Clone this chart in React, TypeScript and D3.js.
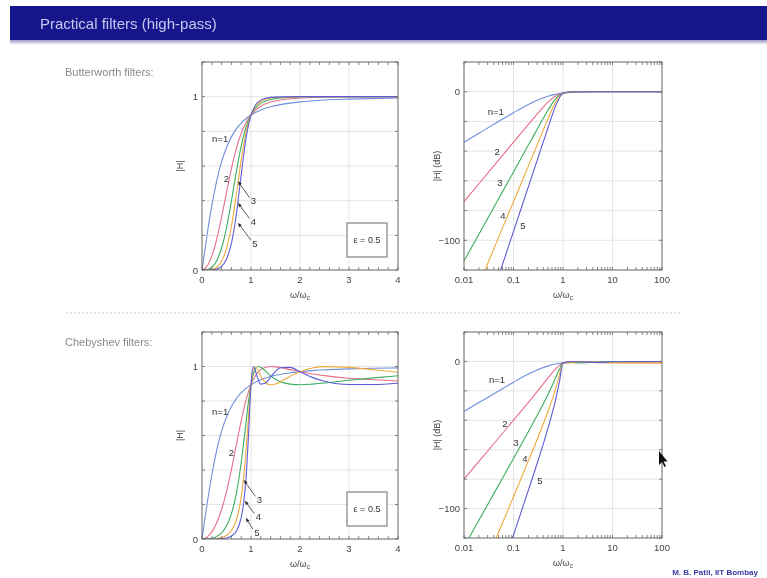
import React from 'react';
import * as d3 from 'd3';

const W = 767;
const H = 578;

// ---- tick labels ----
const linXTicks = [0, 1, 2, 3, 4];
const linYLabels = [0, 1];
const logXTicks = [0.01, 0.1, 1, 10, 100];
const logXTickLabels = ['0.01', '0.1', '1', '10', '100'];
const logYLabels = [0, -100];

const orderLabels = ['n=1', '2', '3', '4', '5'];
const colors = ['#6f90de', '#e66f88', '#3caf5e', '#f0aa3c', '#5c5cd8'];

// ---- Butterworth, |H| (linear) ----
const bwLinW = [0, 0.1, 0.2, 0.3, 0.4, 0.5, 0.6, 0.7, 0.8, 0.9, 1.0, 1.1, 1.2, 1.4, 1.6, 2.0, 2.5, 3.0, 4.0];
const bwLin1 = [0, 0.196, 0.371, 0.514, 0.625, 0.707, 0.768, 0.814, 0.848, 0.874, 0.894, 0.91, 0.923, 0.942, 0.954, 0.97, 0.981, 0.986, 0.992];
const bwLin2 = [0, 0.02, 0.08, 0.177, 0.305, 0.447, 0.584, 0.7, 0.788, 0.851, 0.894, 0.924, 0.945, 0.969, 0.981, 0.992, 0.997, 0.998, 0.999];
const bwLin3 = [0, 0.002, 0.016, 0.054, 0.127, 0.243, 0.397, 0.566, 0.715, 0.825, 0.894, 0.936, 0.961, 0.984, 0.993, 0.998, 1, 1, 1];
const bwLin4 = [0, 0, 0.003, 0.016, 0.051, 0.124, 0.251, 0.433, 0.634, 0.795, 0.894, 0.946, 0.972, 0.992, 0.997, 0.999, 1, 1, 1];
const bwLin5 = [0, 0, 0.001, 0.005, 0.021, 0.062, 0.154, 0.319, 0.548, 0.763, 0.894, 0.955, 0.98, 0.996, 0.999, 1, 1, 1, 1];

// ---- Butterworth, |H| in dB ----
const bwDbW = [0.01, 0.02, 0.05, 0.1, 0.2, 0.3, 0.5, 0.7, 1, 1.5, 2, 5, 10, 100];
const bwDb1 = [-33.98, -27.96, -20.04, -14.15, -8.6, -5.77, -3.01, -1.79, -0.97, -0.46, -0.26, -0.04, -0.01, 0];
const bwDb2 = [-73.98, -61.94, -46.02, -33.98, -21.96, -15.03, -6.99, -3.1, -0.97, -0.21, -0.07, 0, 0, 0];
const bwDb3 = [-113.98, -95.92, -72.04, -53.98, -35.92, -25.37, -12.3, -4.95, -0.97, -0.09, -0.02, 0, 0, 0];
const bwDb4 = [-153.98, -129.9, -98.06, -73.98, -49.9, -35.81, -18.13, -7.28, -0.97, -0.04, 0, 0, 0, 0];
const bwDb5 = [-193.98, -163.9, -124.08, -93.98, -63.88, -46.27, -24.1, -9.93, -0.97, -0.02, 0, 0, 0, 0];

// ---- Chebyshev, |H| (linear) ----
const chLinW = [0, 0.1, 0.2, 0.3, 0.4, 0.5, 0.6, 0.7, 0.8, 0.85, 0.9, 0.95, 1.0, 1.05, 1.1, 1.15, 1.2, 1.3, 1.4, 1.5, 1.6, 1.8, 2.0, 2.25, 2.5, 3.0, 3.5, 4.0];
const chLin1 = [0, 0.196, 0.371, 0.514, 0.625, 0.707, 0.768, 0.814, 0.848, 0.862, 0.874, 0.885, 0.894, 0.903, 0.91, 0.917, 0.923, 0.933, 0.942, 0.949, 0.954, 0.964, 0.97, 0.976, 0.981, 0.986, 0.99, 0.992];
const chLin2 = [0, 0.01, 0.041, 0.094, 0.171, 0.275, 0.402, 0.544, 0.685, 0.749, 0.806, 0.854, 0.894, 0.926, 0.951, 0.969, 0.982, 0.996, 1.0, 0.998, 0.994, 0.982, 0.97, 0.957, 0.947, 0.932, 0.923, 0.916];
const chLin3 = [0, 0.0005, 0.004, 0.015, 0.036, 0.077, 0.146, 0.262, 0.442, 0.557, 0.68, 0.799, 0.894, 0.958, 0.99, 1.0, 0.996, 0.972, 0.946, 0.926, 0.912, 0.898, 0.894, 0.898, 0.904, 0.92, 0.934, 0.946];
const chLin4 = [0, 0, 0.0004, 0.002, 0.008, 0.021, 0.049, 0.11, 0.242, 0.356, 0.516, 0.715, 0.894, 0.987, 0.997, 0.973, 0.944, 0.906, 0.894, 0.899, 0.911, 0.943, 0.97, 0.991, 0.999, 0.995, 0.981, 0.967];
const chLin5 = [0, 0, 0, 0.0003, 0.002, 0.006, 0.017, 0.045, 0.124, 0.209, 0.358, 0.608, 0.894, 1.0, 0.965, 0.921, 0.898, 0.904, 0.938, 0.972, 0.993, 0.995, 0.97, 0.937, 0.915, 0.896, 0.896, 0.903];

// ---- Chebyshev, |H| in dB ----
const chDbW = [0.01, 0.02, 0.05, 0.1, 0.2, 0.3, 0.5, 0.7, 0.85, 1, 1.5, 2, 5, 10, 100];
const chDb1 = [-33.98, -27.96, -20.04, -14.15, -8.6, -5.77, -3.01, -1.79, -1.29, -0.97, -0.46, -0.26, -0.04, -0.01, 0];
const chDb2 = [-80.0, -67.96, -52.03, -39.96, -27.79, -20.55, -11.22, -5.28, -2.51, -0.97, -0.01, -0.26, -0.83, -0.93, -0.97];
const chDb3 = [-126.0, -107.96, -84.07, -65.95, -47.69, -36.78, -22.3, -11.64, -5.09, -0.97, -0.67, -0.97, -0.34, -0.09, 0];
const chDb4 = [-172, -148, -116.1, -91.95, -67.6, -53.06, -33.72, -19.14, -8.98, -0.97, -0.93, -0.26, -0.49, -0.84, -0.97];
const chDb5 = [-218, -188, -148.1, -117.95, -87.5, -69.34, -45.15, -26.86, -13.61, -0.97, -0.25, -0.26, -0.71, -0.24, 0];

// ---- curve label positions (data coords) ----
const bwLinLabelPos: [number, number][] = [[0.37, 0.76], [0.5, 0.53], [1.05, 0.4], [1.05, 0.28], [1.08, 0.155]];
const bwLinArrowTips: [number, number][] = [[0.74, 0.51], [0.74, 0.385], [0.74, 0.27]];
const chLinLabelPos: [number, number][] = [[0.37, 0.74], [0.6, 0.5], [1.17, 0.23], [1.15, 0.13], [1.12, 0.04]];
const chLinArrowTips: [number, number][] = [[0.86, 0.34], [0.88, 0.22], [0.9, 0.12]];
const bwDbLabelPos: [number, number][] = [[0.044, -13.5], [0.0465, -40], [0.053, -61], [0.061, -83], [0.155, -90]];
const chDbLabelPos: [number, number][] = [[0.0466, -12.6], [0.067, -42], [0.112, -55], [0.17, -66], [0.34, -81]];

type Box = { l: number; t: number; r: number; b: number };

const FONT = "'Liberation Sans', Arial, sans-serif";

function Panel(props: {
  id: string;
  box: Box;
  log: boolean;
  xs: number[];
  series: number[][];
  labelPos: [number, number][];
  arrowTips?: [number, number][];
  eps?: boolean;
}) {
  const { id, box, log, xs, series, labelPos, arrowTips, eps } = props;
  const x: any = log
    ? d3.scaleLog().domain([0.01, 100]).range([box.l, box.r])
    : d3.scaleLinear().domain([0, 4]).range([box.l, box.r]);
  const y = log
    ? d3.scaleLinear().domain([-120, 20]).range([box.b, box.t])
    : d3.scaleLinear().domain([0, 1.2]).range([box.b, box.t]);

  const xMinor: number[] = log
    ? [0.01, 0.1, 1, 10].flatMap((d) => d3.range(1, 10).map((k) => d * k)).concat([100])
    : d3.range(0, 4.0001, 0.2);
  const yMinor: number[] = log ? d3.range(-120, 20.01, 20) : d3.range(0, 1.2001, 0.2);
  const xGrid: number[] = log ? [0.1, 1, 10] : [1, 2, 3];
  const yGrid: number[] = log ? d3.range(-100, 0.01, 20) : [0.2, 0.4, 0.6, 0.8, 1.0];

  const line = d3
    .line<number>()
    .x((_, i) => x(xs[i]))
    .y((d) => y(d))
    .curve(d3.curveMonotoneX);

  const tk = 3;
  const cx = (box.l + box.r) / 2;
  const cy = (box.t + box.b) / 2;

  return (
    <g fontFamily={FONT}>
      <defs>
        <clipPath id={id}>
          <rect x={box.l} y={box.t} width={box.r - box.l} height={box.b - box.t} />
        </clipPath>
      </defs>
      {xGrid.map((v) => (
        <line key={'gx' + v} x1={x(v)} x2={x(v)} y1={box.t} y2={box.b} stroke="#e2e2e2" strokeWidth={0.9} />
      ))}
      {yGrid.map((v) => (
        <line key={'gy' + v} x1={box.l} x2={box.r} y1={y(v)} y2={y(v)} stroke="#e2e2e2" strokeWidth={0.9} />
      ))}
      <g clipPath={`url(#${id})`}>
        {series.map((s, i) => (
          <path key={i} d={line(s) || ''} fill="none" stroke={colors[i]} strokeWidth={1.1} />
        ))}
      </g>
      <rect x={box.l} y={box.t} width={box.r - box.l} height={box.b - box.t} fill="none" stroke="#666" strokeWidth={1} />
      {xMinor.map((v, i) => (
        <g key={'tx' + i} stroke="#666" strokeWidth={0.8}>
          <line x1={x(v)} x2={x(v)} y1={box.b} y2={box.b - tk} />
          <line x1={x(v)} x2={x(v)} y1={box.t} y2={box.t + tk} />
        </g>
      ))}
      {yMinor.map((v, i) => (
        <g key={'ty' + i} stroke="#666" strokeWidth={0.8}>
          <line x1={box.l} x2={box.l + tk} y1={y(v)} y2={y(v)} />
          <line x1={box.r} x2={box.r - tk} y1={y(v)} y2={y(v)} />
        </g>
      ))}
      {(log ? logXTicks : linXTicks).map((v, i) => (
        <text key={'lx' + i} x={x(v)} y={box.b + 13} fontSize={9.5} textAnchor="middle" fill="#444">
          {log ? logXTickLabels[i] : String(v)}
        </text>
      ))}
      {(log ? logYLabels : linYLabels).map((v, i) => (
        <text key={'ly' + i} x={box.l - 4} y={y(v) + 3.5} fontSize={9.5} textAnchor="end" fill="#444">
          {v < 0 ? '\u2212' + String(-v) : String(v)}
        </text>
      ))}
      <text x={cx} y={box.b + 28} fontSize={9} textAnchor="middle" fill="#444">
        ω/ω<tspan fontSize={6.5} dy={2}>c</tspan>
      </text>
      <text
        transform={`translate(${log ? box.l - 24 : box.l - 19},${cy}) rotate(-90)`}
        fontSize={9}
        textAnchor="middle"
        fill="#444"
      >
        {log ? '|H| (dB)' : '|H|'}
      </text>
      {labelPos.map((p, i) => (
        <text key={'cl' + i} x={x(p[0])} y={y(p[1]) + 3.5} fontSize={9.5} textAnchor="middle" fill="#333">
          {orderLabels[i]}
        </text>
      ))}
      {arrowTips &&
        arrowTips.map((tip, i) => {
          const lp = labelPos[i + 2];
          const x1 = x(lp[0]) - 4;
          const y1 = y(lp[1]) - 3;
          const x2 = x(tip[0]);
          const y2 = y(tip[1]);
          const ang = Math.atan2(y2 - y1, x2 - x1);
          const a = 4;
          const h1 = [x2 - a * Math.cos(ang - 0.45), y2 - a * Math.sin(ang - 0.45)];
          const h2 = [x2 - a * Math.cos(ang + 0.45), y2 - a * Math.sin(ang + 0.45)];
          return (
            <g key={'ar' + i}>
              <line x1={x1} y1={y1} x2={x2} y2={y2} stroke="#333" strokeWidth={0.8} />
              <path d={`M${x2},${y2}L${h1[0]},${h1[1]}L${h2[0]},${h2[1]}Z`} fill="#222" />
            </g>
          );
        })}
      {eps && (
        <g>
          <rect x={box.r - 51} y={box.b - 47} width={40} height={34} fill="white" stroke="#777" strokeWidth={1.1} />
          <text x={box.r - 31} y={box.b - 27} fontSize={9} textAnchor="middle" fill="#333">
            ε = 0.5
          </text>
        </g>
      )}
    </g>
  );
}

export default function App() {
  return (
    <svg
      width={W}
      height={H}
      viewBox={`0 0 ${W} ${H}`}
      style={{ position: 'absolute', left: 0, top: 0, background: '#fff' }}
    >
      <defs>
        <linearGradient id="shadow" x1="0" y1="0" x2="0" y2="1">
          <stop offset="0" stopColor="#9a9ac8" />
          <stop offset="1" stopColor="#ffffff" />
        </linearGradient>
        <filter id="soft" x="0" y="0" width="100%" height="100%">
          <feGaussianBlur stdDeviation="0.55" />
        </filter>
      </defs>
      <rect x={0} y={0} width={W} height={H} fill="#fff" />
      <g filter="url(#soft)">
        <rect x={10} y={6} width={W - 10} height={34} fill="#17178c" />
        <rect x={10} y={40} width={W - 10} height={5} fill="url(#shadow)" />
        <text x={40} y={29} fontFamily={FONT} fontSize={15} fill="#c6c6ee">
          Practical filters (high-pass)
        </text>

        <text x={65} y={76} fontFamily={FONT} fontSize={11} fill="#8a8a8a">
          Butterworth filters:
        </text>
        <text x={65} y={346} fontFamily={FONT} fontSize={11} fill="#8a8a8a">
          Chebyshev filters:
        </text>
        <line x1={66} x2={680} y1={313} y2={313} stroke="#c8c8c8" strokeWidth={1.2} strokeDasharray="2,2" />

        <Panel
          id="c1"
          box={{ l: 202, t: 62, r: 398, b: 270 }}
          log={false}
          xs={bwLinW}
          series={[bwLin1, bwLin2, bwLin3, bwLin4, bwLin5]}
          labelPos={bwLinLabelPos}
          arrowTips={bwLinArrowTips}
          eps
        />
        <Panel
          id="c2"
          box={{ l: 464, t: 62, r: 662, b: 270 }}
          log
          xs={bwDbW}
          series={[bwDb1, bwDb2, bwDb3, bwDb4, bwDb5]}
          labelPos={bwDbLabelPos}
        />
        <Panel
          id="c3"
          box={{ l: 202, t: 332, r: 398, b: 539 }}
          log={false}
          xs={chLinW}
          series={[chLin1, chLin2, chLin3, chLin4, chLin5]}
          labelPos={chLinLabelPos}
          arrowTips={chLinArrowTips}
          eps
        />
        <Panel
          id="c4"
          box={{ l: 464, t: 332, r: 662, b: 538 }}
          log
          xs={chDbW}
          series={[chDb1, chDb2, chDb3, chDb4, chDb5]}
          labelPos={chDbLabelPos}
        />

        <path d="M659,451 L659,465 L662,462 L664.5,467 L666,466.3 L663.6,461.4 L667.5,461.4 Z" fill="#111" />
        <text x={758} y={575} fontFamily={FONT} fontSize={8} fontWeight="bold" textAnchor="end" fill="#3a3aa8">
          M. B. Patil, IIT Bombay
        </text>
      </g>
    </svg>
  );
}
